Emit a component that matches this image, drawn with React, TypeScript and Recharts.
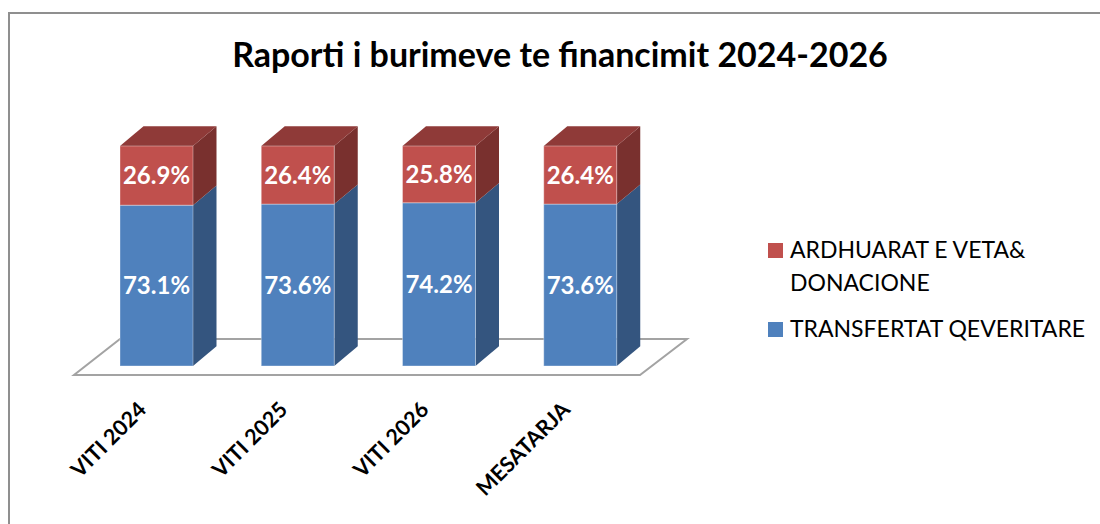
import { BarChart, Bar, XAxis, YAxis, LabelList, ReferenceArea } from 'recharts';

const categories = ['VITI 2024', 'VITI 2025', 'VITI 2026', 'MESATARJA'];
const transfertat = [73.1, 73.6, 74.2, 73.6];
const ardhurat = [26.9, 26.4, 25.8, 26.4];

const TRANSFERTAT = 'TRANSFERTAT QEVERITARE';
const ARDHURAT = 'ARDHUARAT E VETA& DONACIONE';

const chartData = categories.map((name, i) => ({
  name,
  transfertat: transfertat[i],
  ardhurat: ardhurat[i],
}));

const FONT = 'Lato, "Open Sans", sans-serif';
// depth of the fake 3d extrusion
const DX = 23.5;
const DY = 19.7;

const blue = { front: '#4F81BD', side: '#34557F', top: '#3F6797' };
const red = { front: '#C0504D', side: '#79302E', top: '#8F3A38' };

// legend lists the top series first
const legendItems = [
  { label: ARDHURAT, color: red.front },
  { label: TRANSFERTAT, color: blue.front },
];

function make3DBar(colors: typeof blue, withTop: boolean) {
  return (props: any) => {
    const { x, y, width, height } = props;
    if (width == null || height == null) return <g />;
    const r = x + width;
    const b = y + height;
    return (
      <g>
        <polygon
          points={`${r},${y} ${r + DX},${y - DY} ${r + DX},${b - DY} ${r},${b}`}
          fill={colors.side}
        />
        {withTop && (
          <polygon
            points={`${x},${y} ${x + DX},${y - DY} ${r + DX},${y - DY} ${r},${y}`}
            fill={colors.top}
          />
        )}
        <rect x={x} y={y} width={width} height={height} fill={colors.front} stroke="rgba(255,255,255,0.35)" strokeWidth={1} />
      </g>
    );
  };
}

const Floor = (props: any) => {
  const { x, y, width, height } = props;
  const bottom = y + height;
  const left = x;
  const right = x + width;
  return (
    <polygon
      points={`${left - 12},${bottom + 9} ${right - 11},${bottom + 9} ${right + 36},${bottom - 27} ${left + 34},${bottom - 27}`}
      fill="#fff"
      stroke="#a3a3a3"
      strokeWidth={2}
    />
  );
};

const RotatedTick = (props: any) => {
  const { x, y, payload } = props;
  const ax = x - 9;
  const ay = y + 45;
  return (
    <text
      x={ax}
      y={ay}
      transform={`rotate(-45, ${ax}, ${ay})`}
      textAnchor="end"
      fill="#000"
      fontFamily={FONT}
      fontWeight={700}
      fontSize={21.5}
    >
      {payload.value}
    </text>
  );
};

function ChartLegend() {
  return (
    <div style={{ position: 'absolute', left: 768, top: 233, fontFamily: FONT, fontSize: 23, lineHeight: '33px', color: '#000' }}>
      {legendItems.map((item) => (
        <div key={item.label} style={{ display: 'flex', alignItems: 'flex-start', marginBottom: 13 }}>
          <div style={{ width: 15, height: 15, background: item.color, marginTop: 10, marginRight: 7, flex: 'none' }} />
          <div style={{ width: 310 }}>{item.label}</div>
        </div>
      ))}
    </div>
  );
}

export default function App() {
  return (
    <div style={{ position: 'absolute', left: 0, top: 0, width: 1100, height: 524, background: '#fff', overflow: 'hidden' }}>
      <div
        style={{
          position: 'absolute',
          left: 8,
          top: 12,
          width: 1200,
          height: 700,
          border: '2px solid #8f8f8f',
          boxSizing: 'border-box',
        }}
      />
      <div
        style={{
          position: 'absolute',
          left: 0,
          top: 33,
          width: 1120,
          textAlign: 'center',
          fontFamily: FONT,
          fontWeight: 700,
          fontSize: 34,
          color: '#000',
        }}
      >
        Raporti i burimeve te financimit 2024-2026
      </div>
      <div style={{ position: 'absolute', left: 0, top: 0 }}>
        <BarChart width={1100} height={524} data={chartData} margin={{ top: 146, right: 449, left: 86, bottom: 98 }}>
          <YAxis hide domain={[0, 100]} type="number" />
          <XAxis
            dataKey="name"
            axisLine={false}
            tickLine={false}
            tickSize={0}
            tickMargin={0}
            height={60}
            interval={0}
            tick={<RotatedTick />}
          />
          <ReferenceArea y1={0} y2={100} shape={<Floor />} ifOverflow="visible" />
          <Bar
            dataKey="transfertat"
            name={TRANSFERTAT}
            stackId="a"
            fill={blue.front}
            barSize={73}
            shape={make3DBar(blue, false)}
            isAnimationActive={false}
          >
            <LabelList
              dataKey="transfertat"
              position="center"
              fill="#fff"
              fontFamily={FONT}
              fontWeight={700}
              fontSize={24}
              formatter={(v: any) => `${Number(v).toFixed(1)}%`}
            />
          </Bar>
          <Bar
            dataKey="ardhurat"
            name={ARDHURAT}
            stackId="a"
            fill={red.front}
            barSize={73}
            shape={make3DBar(red, true)}
            isAnimationActive={false}
          >
            <LabelList
              dataKey="ardhurat"
              position="center"
              fill="#fff"
              fontFamily={FONT}
              fontWeight={700}
              fontSize={24}
              formatter={(v: any) => `${Number(v).toFixed(1)}%`}
            />
          </Bar>
        </BarChart>
      </div>
      <ChartLegend />
    </div>
  );
}
